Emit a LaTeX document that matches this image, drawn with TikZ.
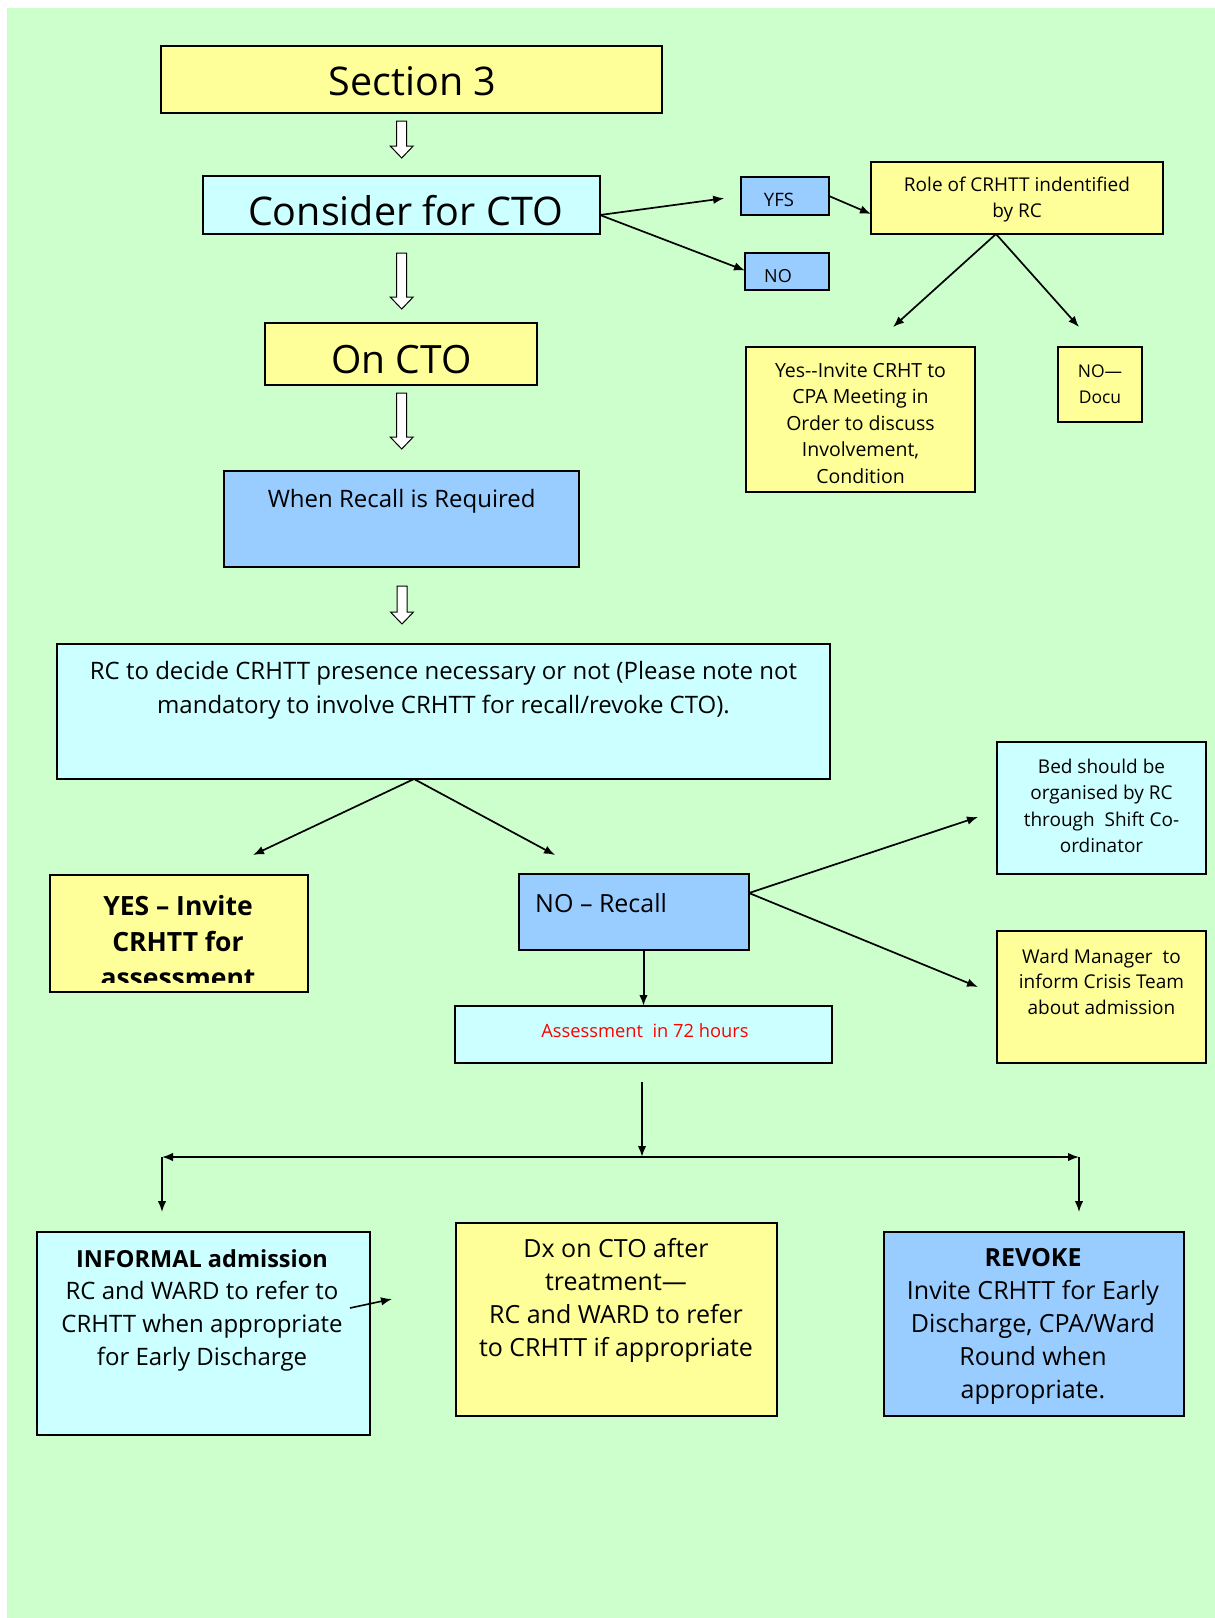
\documentclass[tikz,border=0pt]{standalone}
\usepackage{fontspec}
\setmainfont{Open Sans}
\usetikzlibrary{arrows.meta,calc}
\definecolor{bggreen}{HTML}{CCFFCC}
\definecolor{yel}{HTML}{FFFF99}
\definecolor{cya}{HTML}{CCFFFF}
\definecolor{blu}{HTML}{99CCFF}
\newcommand{\fs}[2]{\fontsize{#1}{#2}\selectfont}
\tikzset{
  box/.style={draw=black, line width=1.6pt, inner sep=0pt, outer sep=0pt,
    preaction={fill=black!45, transform canvas={xshift=1.4pt,yshift=-1.4pt}}},
  txt/.style={align=center, inner sep=0pt},
  conn/.style={line width=1.7pt, -{Latex[length=11pt,width=8.5pt]}},
  both/.style={line width=1.7pt, {Latex[length=11pt,width=8.5pt]}-{Latex[length=11pt,width=8.5pt]}},
  pics/hollow/.style={code={\draw[line width=1pt, fill=white]
     (-5,0) -- (5,0) -- (5,#1-12) -- (11.5,#1-12) -- (0,#1) -- (-11.5,#1-12) -- (-5,#1-12) -- cycle;}}
}
\begin{document}
\begin{tikzpicture}[x=1pt,y=-1pt]
\useasboundingbox (0,0) rectangle (1215,1618);
\fill[white] (0,0) rectangle (1215,1618);
\fill[bggreen] (7,8) rectangle (1215,1618);

% --- main column ---
\node[box, fill=yel, minimum width=501, minimum height=67] (sec) at (411.5,79.5) {};
\node[txt, anchor=base, font=\fs{39.5}{42}] (sect) at (412.5,95) {Section 3};

\node[box, fill=cya, minimum width=397, minimum height=58] (con) at (401.5,205) {};
\node[txt, anchor=base, font=\fs{39.5}{42}] (cont) at (405.5,225) {Consider for CTO};

\node[box, fill=yel, minimum width=272, minimum height=62] (oncto) at (401,354) {};
\node[txt, anchor=base, font=\fs{39}{42}] (onctot) at (401.5,373) {On CTO};

\node[box, fill=blu, minimum width=355, minimum height=96] (recall) at (401.5,519) {};
\node[txt, anchor=base, font=\fs{24}{28}] (recallt) at (401.7,507) {When Recall is Required};

\pic at ($(con.north)+(0.2,-55)$) {hollow=37};
\pic at ($(con.south)+(0.2,19)$) {hollow=56};
\pic at ($(oncto.south)+(0.7,8)$) {hollow=56};
\pic at ($(recall.south)+(0.5,19)$) {hollow=38};

% --- top right ---
\node[box, fill=blu, minimum width=88, minimum height=38] (yes) at (785,196) {};
\node[txt, font=\fs{18.5}{20}] (yest) at (779,200) {YFS};
\node[box, fill=blu, minimum width=84, minimum height=37] (no) at (787,271.5) {};
\node[txt, font=\fs{18}{20}] (not) at (778,276) {NO};
\node[box, fill=yel, minimum width=292, minimum height=72] (role) at (1017,198) {};
\node[txt, font=\fs{19}{26}] (rolet) at (1017,200) {Role of CRHTT indentified\\by RC};
\node[box, fill=yel, minimum width=229, minimum height=145] (yesinv) at (860.5,419.5) {};
\node[txt, font=\fs{19.5}{26.5}] (yesinvt) at (860.5,423) {Yes-{}-Invite CRHT to\\CPA Meeting in\\Order to discuss\\Involvement,\\Condition};
\node[box, fill=yel, minimum width=84, minimum height=75] (nodoc) at (1100,384.5) {};
\node[txt, font=\fs{17.5}{26.5}] (nodoct) at (1100,384) {NO—\\Docu};

\coordinate (cs) at ($(con.south east)+(0,-19)$);
\draw[conn, shorten >=17pt] (cs) -- (yes.west);
\draw[conn] (cs) -- ($(no.west)+(0,-1)$);
\draw[conn] (yes.east) -- ($(role.west)+(0,16)$);
\coordinate (rs) at ($(role.south)+(-21,0)$);
\coordinate (r1) at (893,327);
\coordinate (r2) at (1079,327);
\draw[conn] (rs) -- (r1);
\draw[conn] (rs) -- (r2);

% --- RC decision ---
\node[box, fill=cya, minimum width=773, minimum height=135] (rc) at (443.5,711.5) {};
\node[txt, font=\fs{24}{34}] (rct) at (443.5,690) {RC to decide CRHTT presence necessary or not (Please note not\\mandatory to involve CRHTT for recall/revoke CTO).};

\coordinate (rcs) at ($(rc.south)+(-29.5,0)$);
\coordinate (d1) at (253,855);
\coordinate (d2) at (555,855);
\draw[conn] (rcs) -- (d1);
\draw[conn] (rcs) -- (d2);

\node[box, fill=yel, minimum width=258, minimum height=117] (yesas) at (179,933.5) {};
\begin{scope}
\clip (52,877) rectangle (306,982);
\node[txt, font=\fs{26.5}{36}\bfseries] (yesast) at (178,942) {YES – Invite\\CRHTT for\\assessment};
\end{scope}

\node[box, fill=blu, minimum width=230, minimum height=76] (norec) at (634,912) {};
\node[txt, anchor=west, font=\fs{25}{28}] (norect) at (535,903) {NO – Recall};

\node[box, fill=cya, minimum width=377, minimum height=57] (assess) at (643.5,1034.5) {};
\node[txt, font=\fs{18.3}{20}, text=red] (assesst) at (645,1031) {Assessment\ \ in 72 hours};
\draw[conn, line width=2pt] (assess.north |- norec.south) -- (assess.north);

\node[box, fill=cya, minimum width=209, minimum height=132] (bed) at (1101.5,808) {};
\node[txt, font=\fs{19}{26.3}] (bedt) at (1101.5,806) {Bed should be\\organised by RC\\through\ \ Shift Co-\\ordinator};
\node[box, fill=yel, minimum width=209, minimum height=132] (ward) at (1101.5,997) {};
\node[txt, font=\fs{19}{25.5}] (wardt) at (1101.5,981.5) {Ward Manager\ \ to\\inform Crisis Team\\about admission};

\coordinate (ns) at ($(norec.east)+(0,-19)$);
\coordinate (b1) at (978,817);
\coordinate (b2) at (978,987);
\draw[conn] (ns) -- (b1);
\draw[conn] (ns) -- (b2);

% --- bottom ---
\coordinate (as) at ($(assess.south)+(-1.5,19)$);
\coordinate (j) at (642,1157);
\coordinate (jl) at (162,1157);
\coordinate (jr) at (1079,1157);
\coordinate (dl) at (162,1212);
\coordinate (dr) at (1079,1212);
\draw[conn, line width=2pt] (as) -- (j);
\draw[both] (jl) -- (jr);
\draw[conn, line width=1.6pt] (jl) -- (dl);
\draw[conn, line width=1.6pt] (jr) -- (dr);

\node[box, fill=cya, minimum width=333, minimum height=203] (inf) at (203.5,1333.5) {};
\node[txt, font=\fs{24}{32.7}] (inft) at (202,1310) {{\fs{23.5}{32.7}\bfseries INFORMAL admission}\\RC and WARD to refer to\\CRHTT when appropriate\\for Early Discharge};
\node[box, fill=yel, minimum width=321, minimum height=193] (dx) at (616.5,1319.5) {};
\node[txt, font=\fs{25}{33}] (dxt) at (616,1300.5) {Dx on CTO after\\treatment—\\RC and WARD to refer\\to CRHTT if appropriate};
\node[box, fill=blu, minimum width=300, minimum height=184] (rev) at (1034,1324) {};
\node[txt, font=\fs{25}{33}] (revt) at (1033,1326) {\textbf{REVOKE}\\Invite CRHTT for Early\\Discharge, CPA/Ward\\Round when\\appropriate.};

\coordinate (sa1) at (350,1308);
\coordinate (sa2) at (392,1299);
\draw[conn, line width=1.6pt] (sa1) -- (sa2);
\end{tikzpicture}
\end{document}
